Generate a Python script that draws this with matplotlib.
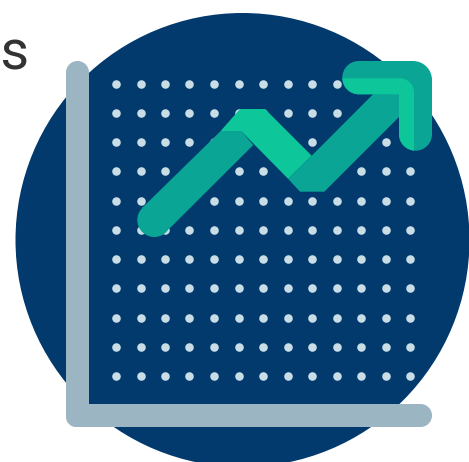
import matplotlib
matplotlib.use("Agg")
import matplotlib.pyplot as plt
from matplotlib.patches import Circle, PathPatch, Polygon
from matplotlib.path import Path

# dot grid of the plot area
dot_x = [116.2, 140.5, 164.8, 189.2, 214, 238.7, 263.2, 287.5, 311.9, 336.7, 361.2, 385.5, 410.2]
dot_y = [84.3, 113.3, 142.3, 171.3, 200.7, 230, 259, 288.3, 317.5, 346.5, 375.7]

navy = "#023A6D"
dot_col = "#C8DDE6"
axis_col = "#9BB5C2"
dark = "#0AA595"
light = "#0DC69A"

fig = plt.figure(figsize=(4.69, 4.62), dpi=100)
ax = fig.add_axes([0, 0, 1, 1])
ax.set_xlim(0, 469)
ax.set_ylim(462, 0)
ax.axis("off")

M, L, C, Z = Path.MOVETO, Path.LINETO, Path.CURVE4, Path.CLOSEPOLY
K = 0.5523


def rounded(points):
    # points: (x, y, radius) corners of an axis aligned outline
    verts, codes = [], []
    n = len(points)
    for i, (x, y, r) in enumerate(points):
        px, py, _ = points[i - 1]
        nx, ny, _ = points[(i + 1) % n]

        def toward(ox, oy, d):
            dist = ((ox - x) ** 2 + (oy - y) ** 2) ** 0.5
            return x + (ox - x) / dist * d, y + (oy - y) / dist * d

        verts.append(toward(px, py, r))
        codes.append(M if i == 0 else L)
        if r > 0:
            verts += [toward(px, py, r * (1 - K)), toward(nx, ny, r * (1 - K)), toward(nx, ny, r)]
            codes += [C, C, C]
    verts.append(verts[0])
    codes.append(Z)
    return Path(verts, codes)


ax.add_patch(Circle((242.5, 240), 227, fc=navy, ec="none", zorder=1))

ax.text(30, 69.5, "es", family="Roboto", fontsize=40, color="#333333",
        ha="right", va="baseline", zorder=1)

xs = [x for x in dot_x for _ in dot_y]
ys = [y for _ in dot_x for y in dot_y]
ax.scatter(xs, ys, s=38, c=dot_col, linewidths=0, zorder=2)

# the L shaped axis
axis_path = rounded([
    (66, 61, 11.5), (89, 61, 11.5), (89, 404, 0), (432, 404, 11.5),
    (432, 427, 11.5), (66, 427, 10),
])
ax.add_patch(PathPatch(axis_path, fc=axis_col, ec="none", zorder=3))

# rising stem
ax.add_patch(Polygon([(142, 208), (220, 131.7), (241.7, 131.7), (253.3, 145), (170, 228)],
                     fc=dark, ec="none", zorder=4))
ax.add_patch(Circle((154.3, 220), 17, fc=dark, ec="none", zorder=4))
# peak
ax.add_patch(Polygon([(220, 131.7), (240, 109), (265, 109), (311.7, 155.7), (288.3, 179), (241.7, 131.7)],
                     fc=light, ec="none", zorder=5))
# second rise
ax.add_patch(Polygon([(288.3, 179), (300, 191.7), (324.3, 191.7), (400, 116), (400, 90), (373, 94.3), (311.7, 155.7)],
                     fc=dark, ec="none", zorder=5))

# arrow head, dark outer band with light inner band
head_path = rounded([
    (342.3, 61, 16.6), (432, 61, 19), (432, 150.7, 16.5), (399, 150.7, 16.5),
    (399, 94.3, 0), (342.3, 94.3, 16.6),
])
head = PathPatch(head_path, fc=dark, ec="none", zorder=6)
ax.add_patch(head)
inner_path = rounded([
    (335, 78.3, 0), (414, 78.3, 14), (414, 160, 0), (390, 160, 0), (335, 100, 0),
])
inner = PathPatch(inner_path, fc=light, ec="none", zorder=7)
ax.add_patch(inner)
inner.set_clip_path(head_path, ax.transData)

fig.savefig("out.png", dpi=100)
